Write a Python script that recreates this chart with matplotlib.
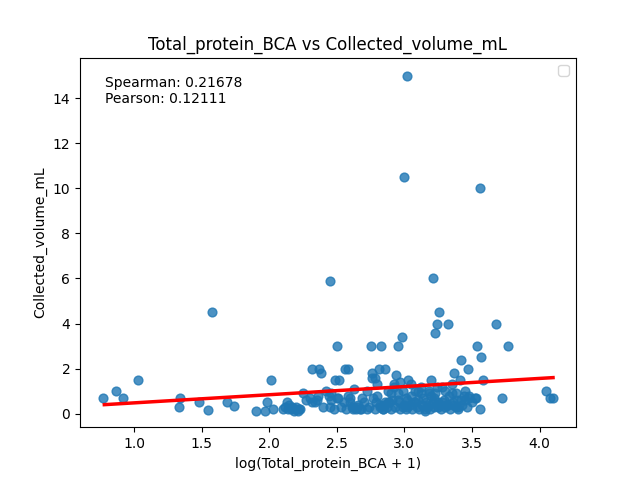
import matplotlib
matplotlib.use("Agg")
import matplotlib.pyplot as plt
import numpy as np

x_vals = [0.77,0.87,0.92,1.03,1.33,1.34,1.48,1.55,1.58,1.69,1.74,1.90,1.97,1.98,2.01,2.03,
 2.10,2.12,2.13,2.14,2.15,2.16,2.17,2.18,2.19,2.20,2.21,2.22,2.23,2.25,2.27,2.30,2.32,2.34,2.35,2.37,2.38,2.40,2.42,2.44,2.45,2.46,2.48,2.49,2.50,2.51,2.52,2.53,2.55,2.56,2.57,2.58,2.60,2.61,2.62,2.63,2.64,2.65,2.66,2.67,2.69,2.70,2.72,2.74,2.75,2.76,2.77,2.78,2.79,2.80,2.81,2.82,2.83,2.84,2.85,2.86,2.87,2.88,2.89,2.90,2.91,2.92,2.93,2.94,2.95,2.96,2.97,2.98,2.99,3.00,3.01,3.02,3.03,3.04,3.05,3.06,3.07,3.08,3.09,3.10,3.11,3.12,3.13,3.14,3.15,3.16,3.17,3.18,3.19,3.20,3.21,3.22,3.23,3.24,3.25,3.26,3.27,3.28,3.29,3.30,3.31,3.32,3.33,3.34,3.35,3.36,3.37,3.38,3.39,3.40,3.41,3.42,3.43,3.44,3.45,3.46,3.47,3.48,3.50,3.52,3.54,3.56,3.57,3.58,3.68,3.72,3.77,4.05,4.08,4.10,
 2.32,2.36,2.45,2.50,2.72,2.80,2.82,2.84,2.90,2.95,2.97,3.00,3.02,3.05,3.10,3.15,3.18,3.22,3.25,3.28,3.32,3.35,3.40,3.45,3.48,3.30,3.20,2.95,2.88,2.60,2.99,3.01,3.21,3.23,3.56,3.24,3.26,2.46,2.58,2.62,2.78,2.76,2.92,3.38,3.53,3.08,3.12,3.36,3.42,2.68,2.86,3.02,3.18]
y_vals = [0.7,1.0,0.7,1.5,0.3,0.7,0.5,0.15,4.5,0.5,0.35,0.1,0.1,0.5,1.5,0.2,
 0.2,0.3,0.5,0.2,0.4,0.2,0.3,0.1,0.2,0.3,0.1,0.2,0.2,0.9,0.6,0.7,2.0,0.5,0.6,2.0,1.8,0.3,1.0,0.8,5.9,0.6,0.2,1.5,3.0,0.7,1.5,0.3,0.5,2.0,0.2,2.0,0.5,0.3,0.2,1.1,0.2,0.3,0.4,0.2,0.7,0.5,0.2,0.3,3.0,1.8,0.7,1.6,0.5,1.3,2.0,0.3,3.0,0.2,0.4,2.0,0.3,1.0,0.5,0.2,0.6,1.2,0.3,1.7,3.0,0.5,1.4,3.4,0.3,10.5,0.7,15.0,1.5,0.4,1.3,0.2,0.5,1.0,0.3,0.6,0.2,1.2,0.4,0.7,0.1,0.5,0.3,1.0,0.2,1.5,6.0,0.3,3.6,4.0,0.5,4.5,0.2,1.2,0.6,0.3,0.4,4.0,0.8,0.2,1.3,0.5,1.8,0.3,0.6,0.2,1.5,2.4,0.4,0.8,1.0,0.3,2.0,0.7,0.5,0.7,3.0,10.0,2.5,1.5,4.0,0.7,3.0,1.0,0.7,0.7,
 0.5,0.8,0.3,0.7,1.0,0.8,0.4,0.2,0.9,0.6,0.2,0.4,0.6,0.8,1.0,0.2,0.9,0.7,0.3,0.5,0.4,0.9,0.3,0.6,0.8,1.0,0.8,0.9,0.5,0.7,1.0,0.2,0.5,0.9,0.2,1.2,0.4,0.9,0.8,0.3,0.2,1.6,1.3,0.9,0.7,0.5,0.9,0.4,0.6,0.2,0.5,0.3,0.4]

x = np.array(x_vals); y = np.array(y_vals)
fig, ax = plt.subplots(figsize=(6.4, 4.8), dpi=100)
ax.scatter(x, y, color="#1f77b4", alpha=0.8, s=40)
fit_x = [0.78, 4.10]
fit_y = [0.40, 1.60]
ax.plot(fit_x, fit_y, color="red", lw=2.5)
ax.set_xlim(0.6, 4.27)
ax.set_ylim(-0.6, 15.8)
ax.set_xticks([1.0,1.5,2.0,2.5,3.0,3.5,4.0])
ax.set_yticks([0,2,4,6,8,10,12,14])
ax.set_xlabel("log(Total_protein_BCA + 1)")
ax.set_ylabel("Collected_volume_mL")
ax.set_title("Total_protein_BCA vs Collected_volume_mL")
ax.text(0.05, 0.95, "Spearman: 0.21678\nPearson: 0.12111", transform=ax.transAxes, va="top")
import matplotlib.patches as mp
ax.legend(handles=[], loc="upper right")
fig.savefig("out.png")
